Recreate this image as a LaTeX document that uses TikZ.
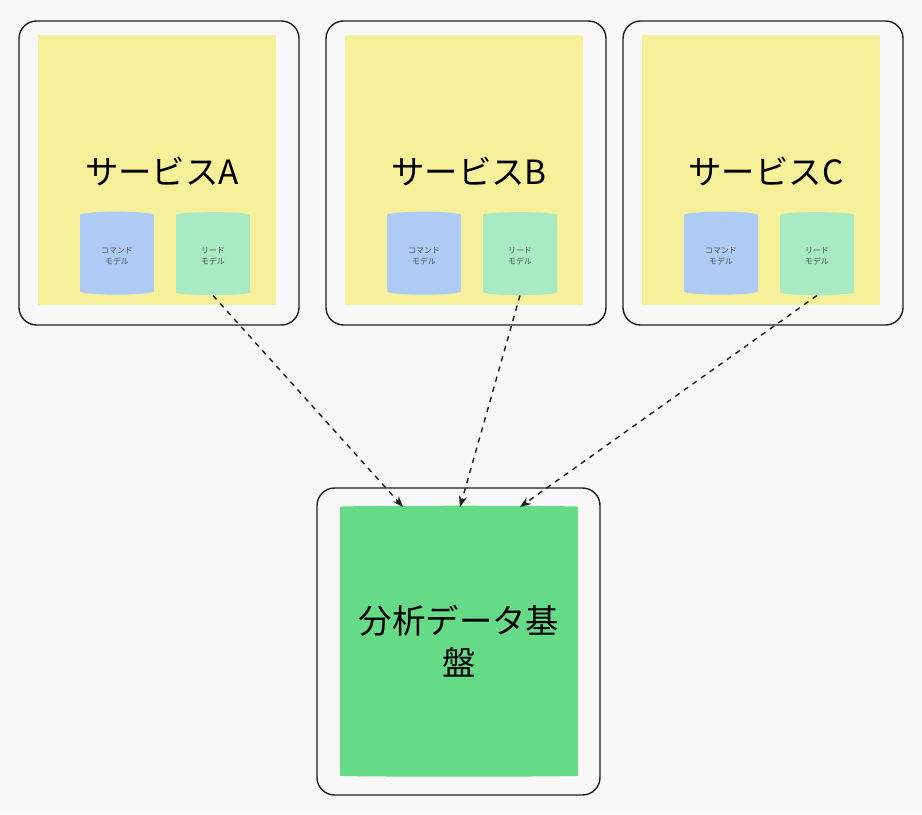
\documentclass[tikz,border=0pt]{standalone}
\usepackage{fontspec}
\setmainfont{Noto Sans CJK JP}
\definecolor{bgGray}{RGB}{248, 248, 248}
\definecolor{svcYellow}{RGB}{247, 240, 155}
\definecolor{cmdBlue}{RGB}{174, 203, 245}
\definecolor{readGreen}{RGB}{168, 234, 195}
\definecolor{dbGreen}{RGB}{102, 219, 135}
\definecolor{lineDark}{RGB}{30, 30, 30}
\usetikzlibrary{arrows.meta,positioning,shapes.geometric}

\begin{document}
\begin{tikzpicture}[x=0.02cm, y=-0.02cm,
    frame/.style={draw=lineDark, rounded corners=10pt, line width=0.8pt, fill=bgGray},
    svc/.style={fill=svcYellow},
    store/.style={cylinder, shape border rotate=90, aspect=0.16, minimum height=1.66cm, minimum width=1.48cm, align=center, font=\fontsize{4.5}{6}\selectfont, text=black!70},
    flow/.style={-{Stealth[length=2.2mm]}, dashed, line width=0.8pt, lineDark}]
    \fill[bgGray] (0,0) rectangle (922,814);
    % services
    \foreach \name/\lbl/\x in {A/A/19, B/B/326, C/C/623} {
        \draw[frame] (\x,21) rectangle ++(280,304);
        \fill[svc] (\x+19,35) rectangle ++(238,270);
        \node[font=\fontsize{19}{22}\selectfont] (title\name) at (\x+143,172) {サービス\lbl};
        \node[store, fill=cmdBlue] (cmd\name) at (\x+98,256) {コマンド\\モデル};
        \node[store, fill=readGreen] (read\name) at (\x+194,256) {リード\\モデル};
    }
    % analytics store
    \draw[frame] (317,488) rectangle (600,795);
    \node[cylinder, shape border rotate=90, aspect=0.16, fill=dbGreen, minimum height=5.42cm, minimum width=4.76cm] (db) at (459,642) {};
    \node[font=\fontsize{19}{24}\selectfont, align=center] (dbLabel) at (459,641) {分析データ基\\盤};
    \coordinate (inA) at (403,507);
    \coordinate (inB) at (460,507);
    \coordinate (inC) at (520,507);
    \draw[flow] (readA.bottom) -- (inA);
    \draw[flow] (readB.bottom) -- (inB);
    \draw[flow] (readC.bottom) -- (inC);
\end{tikzpicture}
\end{document}
